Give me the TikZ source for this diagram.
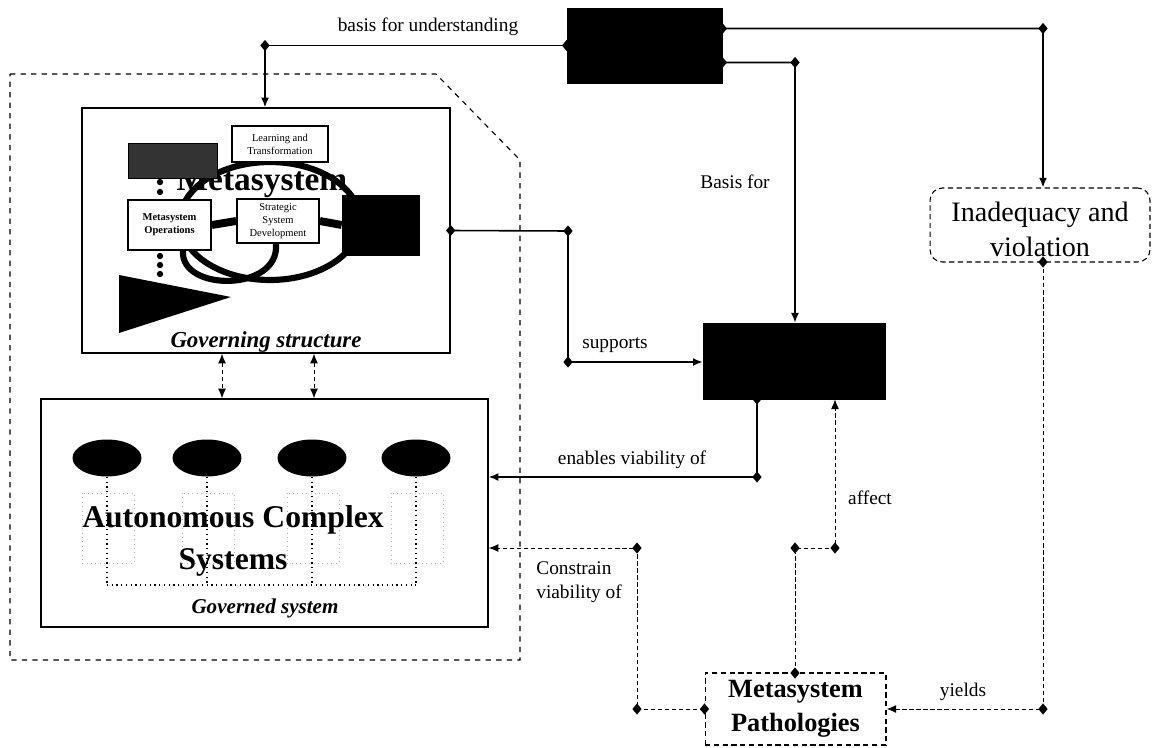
\documentclass[tikz,border=0pt]{standalone}
\usepackage{fontspec}
\setmainfont{Liberation Serif}
\usetikzlibrary{shapes.geometric, arrows.meta, positioning}

\begin{document}
\begin{tikzpicture}[x=0.02cm, y=-0.02cm,
    blackbox/.style={draw, fill=black, rectangle, inner sep=0pt},
    framebox/.style={draw, rectangle, line width=0.8pt, inner sep=0pt},
    dashbox/.style={draw, rectangle, dash pattern=on 3pt off 2pt, line width=0.6pt, inner sep=0pt, align=center},
    smallbox/.style={draw, fill=white, rectangle, line width=1pt, inner sep=0pt, align=center, font=\fontsize{6}{7.5}\selectfont},
    sysnode/.style={ellipse, fill=black, minimum width=1.38cm, minimum height=0.74cm, inner sep=0pt},
    dia/.style={diamond, fill=black, inner sep=0pt, minimum width=0.19cm, minimum height=0.23cm},
    conn/.style={line width=0.9pt},
    dconn/.style={line width=0.55pt, dash pattern=on 2.5pt off 1.5pt},
    arr/.style={-{Latex[length=5.5pt,width=4.5pt]}},
    lbl/.style={font=\fontsize{11}{14}\selectfont, inner sep=0pt}]
    \useasboundingbox (0,0) rectangle (1152,747);

    % Outer dashed boundary
    \draw[line width=0.65pt, dash pattern=on 3pt off 3pt] (10,74) -- (436,74) -- (520,160) -- (520,660) -- (10,660) -- cycle;

    % Black boxes
    \node[blackbox, minimum width=3.1cm, minimum height=1.5cm] (core) at (644.5,45.5) {};
    \node[blackbox, minimum width=3.64cm, minimum height=1.52cm] (eff) at (794,361) {};

    % Governing structure
    \node[framebox, minimum width=7.36cm, minimum height=4.9cm] (govbox) at (266,230.5) {};
    \node[font=\bfseries\fontsize{19}{22}\selectfont] (metatxt) at (262,183) {Metasystem};
    \draw[line width=3.5pt] (270,221) ellipse [x radius=1.8cm, y radius=1.18cm];
    \fill (119,275) -- (119,333) -- (231,297) -- cycle;
    \foreach \y in {182,192,256,265,274}
        \fill (160,\y) circle (1.8pt);
    \node[blackbox, fill=black!80, minimum width=1.78cm, minimum height=0.7cm] (gbox) at (172.5,160.5) {};
    \node[smallbox, line width=1.5pt, minimum width=1.92cm, minimum height=0.72cm] (learn) at (280,144) {Learning and\\Transformation};
    \node[smallbox, font=\bfseries\fontsize{6}{7.5}\selectfont, minimum width=1.66cm, minimum height=1cm] (ops) at (169.5,225) {Metasystem\\Operations};
    \node[smallbox, minimum width=1.64cm, minimum height=0.88cm] (strat) at (278,221) {Strategic\\System\\Development};
    \node[blackbox, minimum width=1.54cm, minimum height=1.2cm] (blk) at (380.5,225) {};
    \draw[line width=4.5pt] (ops.east) -- (strat.west);
    \draw[line width=4.5pt] (strat.east) -- (blk.west);
    \draw[line width=3.5pt] ([xshift=0.27cm]ops.south) .. controls (180,292) and (280,292) .. ([xshift=-0.04cm]strat.south);
    \node[font=\bfseries\itshape\fontsize{13}{15}\selectfont] (govlbl) at (266,342) {Governing structure};

    % Governed system
    \node[framebox, minimum width=8.94cm, minimum height=4.56cm] (gdbox) at (264.5,513) {};
    \node[sysnode] (s1) at (107,458) {};
    \node[sysnode] (s2) at (207,458) {};
    \node[sysnode] (s3) at (312,458) {};
    \node[sysnode] (s4) at (416,458) {};
    \foreach \c in {107,207,312,416}
        \draw[gray!60, dotted, line width=0.5pt] ({\c-25},493) rectangle ({\c+27},563);
    \coordinate (jn) at (0,585);
    \foreach \s in {s1,s2,s3,s4}
        \draw[dotted, line width=0.7pt] (\s.center) -- (\s |- jn);
    \draw[dotted, line width=0.7pt] (s1 |- jn) -- (s4 |- jn);
    \node[font=\bfseries\fontsize{18}{24}\selectfont, align=center] (acs) at (233,541) {Autonomous Complex\\Systems};
    \node[font=\bfseries\itshape\fontsize{12}{14}\selectfont] (gdlbl) at (265,608) {Governed system};

    % Links between structure and system
    \coordinate (a1) at (222,0);
    \coordinate (a2) at (314,0);
    \draw[dconn, {Latex[length=5.5pt,width=4.5pt]}-{Latex[length=5.5pt,width=4.5pt]}] (a1 |- govbox.south) -- (a1 |- gdbox.north);
    \draw[dconn, {Latex[length=5.5pt,width=4.5pt]}-{Latex[length=5.5pt,width=4.5pt]}] (a2 |- govbox.south) -- (a2 |- gdbox.north);

    % Dashed boxes
    \node[dashbox, rounded corners=7pt, minimum width=4.4cm, minimum height=1.48cm, font=\fontsize{16}{19.5}\selectfont] (inad) at (1040,225) {\rule{0pt}{16pt}Inadequacy and\\violation};
    \node[dashbox, minimum width=3.62cm, minimum height=1.44cm, font=\bfseries\fontsize{15}{19.5}\selectfont] (path) at (795.5,709) {Metasystem\\Pathologies};

    % Junction points
    \node[dia] (c1) at (core.west) {};
    \node[dia] (c2) at ([yshift=0.34cm]core.east) {};
    \node[dia] (c3) at ([yshift=-0.34cm]core.east) {};
    \node[dia] (d1) at (265,45.5) {};
    \node[dia] (d2) at (1043,28.5) {};
    \node[dia] (d3) at (795,62.5) {};
    \node[dia] (d4) at (govbox.east) {};
    \node[dia] (d5) at (568,231) {};
    \node[dia] (d6) at (568,362) {};
    \node[dia] (d7) at (757,399) {};
    \node[dia] (d8) at (757,477) {};
    \node[dia] (d9) at (path.west) {};
    \node[dia] (d10) at (637,709) {};
    \node[dia] (d11) at (637,548) {};
    \node[dia] (d12) at (795,673) {};
    \node[dia] (d13) at (795,548) {};
    \node[dia] (d14) at (835,548) {};
    \node[dia] (d15) at (1043,262) {};
    \node[dia] (d16) at (1043,709) {};

    % Solid connectors
    \draw[conn, arr] (c1.center) -- (d1.center) -- (d1 |- govbox.north);
    \draw[conn, arr] (c2.center) -- (d2.center) -- (d2 |- inad.north);
    \draw[conn, arr] (c3.center) -- (d3.center) -- (d3 |- eff.north);
    \draw[conn] (d4.center) -- (d5.center) -- (d6.center);
    \draw[conn, arr] (d6.center) -- (d6 -| eff.west);
    \draw[conn] (d7.center) -- (d8.center);
    \draw[conn, arr] (d8.center) -- (d8 -| gdbox.east);

    % Dashed connectors
    \draw[dconn, arr] (d9.center) -- (d10.center) -- (d11.center) -- (d11 -| gdbox.east);
    \draw[dconn, arr] (d12.center) -- (d13.center) -- (d14.center) -- (d14 |- eff.south);
    \draw[dconn, arr] (d15.center) -- (d16.center) -- (d16 -| path.east);

    % Labels
    \node[lbl] at (428,27) {basis for understanding};
    \node[lbl] at (735,182) {Basis for};
    \node[lbl] at (615,345) {supports};
    \node[lbl] at (632,460) {enables viability of};
    \node[lbl, align=left, anchor=west] at (536,582) {Constrain\\viability of};
    \node[lbl] at (870,498) {affect};
    \node[lbl] at (963,692) {yields};
\end{tikzpicture}
\end{document}
